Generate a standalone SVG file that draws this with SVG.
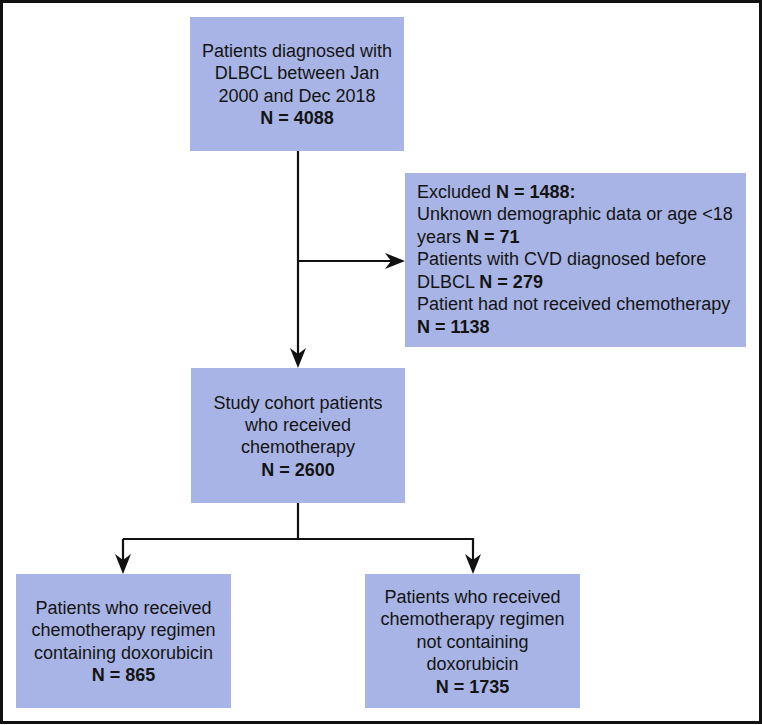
<svg xmlns="http://www.w3.org/2000/svg" width="762" height="725" viewBox="0 0 762 725">
<style>
.box{fill:#a8b4e5;}
.t{font-family:"Liberation Sans",Arial,sans-serif;font-size:18px;fill:#141414;}
.c{text-anchor:middle;}
.b{font-weight:bold;}
.ln{fill:none;stroke:#111;stroke-width:2.2;}
</style>
<defs>
<marker id="ah" markerUnits="userSpaceOnUse" markerWidth="20" markerHeight="16" refX="10" refY="8" orient="auto" overflow="visible">
<path d="M0,0 L20,8 L0,16 L6,8 z" fill="#111"/>
</marker>
</defs>
<rect x="1.5" y="1.5" width="759" height="721" fill="#fff" stroke="#111" stroke-width="3"/>
<g id="connectors">
<path class="ln" d="M298,151 V358" marker-end="url(#ah)"/>
<path class="ln" d="M298,261 H395" marker-end="url(#ah)"/>
<path class="ln" d="M298,503 V539"/>
<path class="ln" d="M123,539 H473 V564" marker-end="url(#ah)"/>
<path class="ln" d="M123,539 V564" marker-end="url(#ah)"/>
</g>
<g id="n1">
<rect class="box" x="190" y="17" width="214" height="134"/>
<text class="t c" x="297" y="57">Patients diagnosed with</text>
<text class="t c" x="297" y="79.3">DLBCL between Jan</text>
<text class="t c" x="297" y="101.6">2000 and Dec 2018</text>
<text class="t c b" x="297" y="124">N = 4088</text>
</g>
<g id="excluded">
<rect class="box" x="405" y="173" width="341" height="174"/>
<text class="t" x="417" y="197.5">Excluded <tspan class="b">N = 1488:</tspan></text>
<text class="t" x="417" y="220">Unknown demographic data or age &lt;18</text>
<text class="t" x="417" y="242.5">years <tspan class="b">N = 71</tspan></text>
<text class="t" x="417" y="265">Patients with CVD diagnosed before</text>
<text class="t" x="417" y="287.5">DLBCL <tspan class="b">N = 279</tspan></text>
<text class="t" x="417" y="310">Patient had not received chemotherapy</text>
<text class="t b" x="417" y="332.5">N = 1138</text>
</g>
<g id="cohort">
<rect class="box" x="191" y="368" width="214" height="135"/>
<text class="t c" x="298" y="408.5">Study cohort patients</text>
<text class="t c" x="298" y="430.8">who received</text>
<text class="t c" x="298" y="453">chemotherapy</text>
<text class="t c b" x="298" y="475.5">N = 2600</text>
</g>
<g id="dox">
<rect class="box" x="16" y="574" width="215" height="134"/>
<text class="t c" x="123.5" y="613.5">Patients who received</text>
<text class="t c" x="123.5" y="636">chemotherapy regimen</text>
<text class="t c" x="123.5" y="658.5">containing doxorubicin</text>
<text class="t c b" x="123.5" y="681">N = 865</text>
</g>
<g id="nodox">
<rect class="box" x="365" y="574" width="215" height="134"/>
<text class="t c" x="472.5" y="602.5">Patients who received</text>
<text class="t c" x="472.5" y="625">chemotherapy regimen</text>
<text class="t c" x="472.5" y="647.5">not containing</text>
<text class="t c" x="472.5" y="670">doxorubicin</text>
<text class="t c b" x="472.5" y="692.5">N = 1735</text>
</g>
</svg>
